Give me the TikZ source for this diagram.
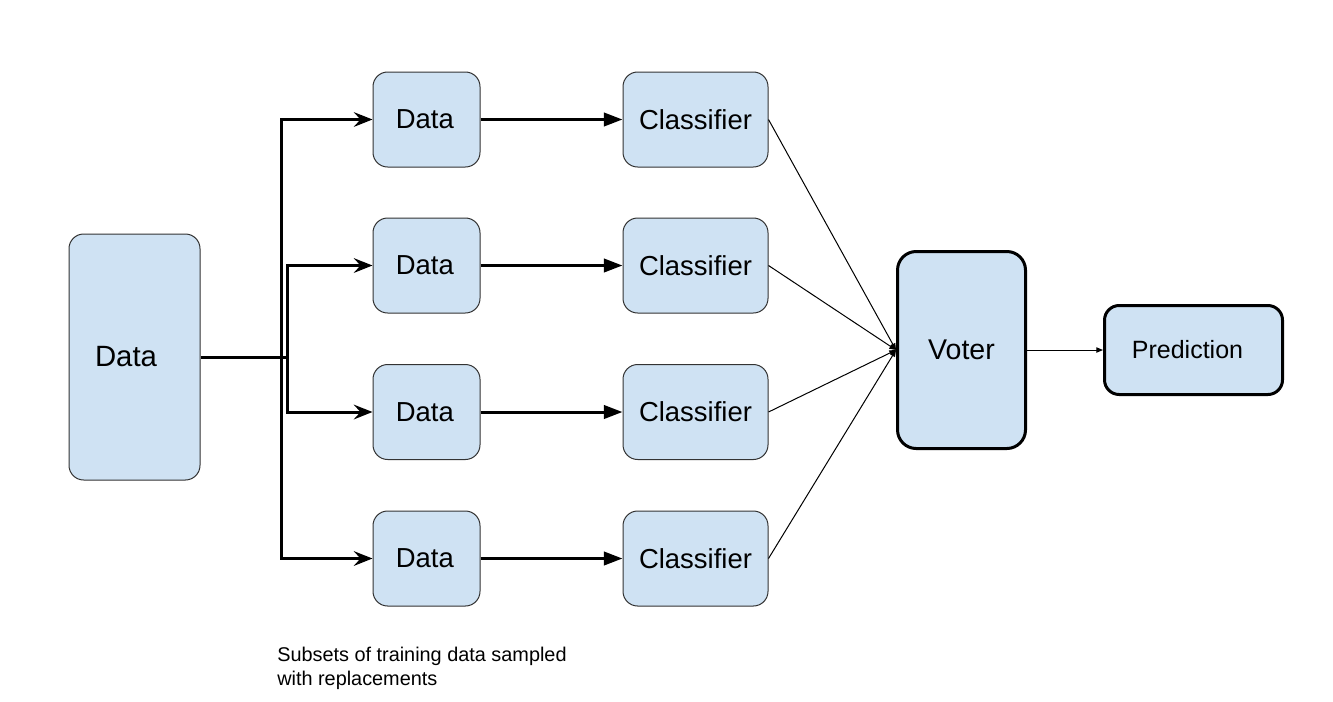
\documentclass[tikz,border=0pt]{standalone}
\usepackage{fontspec}
\setmainfont{Liberation Sans}
\usetikzlibrary{arrows.meta}
\definecolor{boxfill}{HTML}{CFE2F3}
\definecolor{boxline}{HTML}{333333}
\begin{document}
\begin{tikzpicture}[x=0.75pt,y=-0.75pt,
  thinbox/.style={draw=boxline,line width=0.75pt,fill=boxfill,rounded corners=11pt,inner sep=0pt},
  thickbox/.style={draw=black,line width=2.25pt,fill=boxfill,rounded corners=14pt,inner sep=0pt},
  branch/.style={draw=black,line width=2.25pt,-{Stealth[length=14pt,width=11pt,inset=5pt]}},
  feed/.style={draw=black,line width=2.25pt,-{Triangle[length=14pt,width=10pt]}},
  vote/.style={draw=black,line width=0.75pt,-{Triangle[length=5pt,width=4pt]}},
  lbl/.style={font=\fontsize{20.6pt}{24pt}\selectfont}]
\useasboundingbox (0,0) rectangle (1333,701);
\node[thinbox,minimum width=98.25pt,minimum height=184.5pt,font=\fontsize{22pt}{26pt}\selectfont] (bigdata) at (134.5,357) {Data\hspace*{12.75pt}};
\foreach \i/\yy in {1/119.5,2/265.5,3/412,4/558.5}{
  \node[thinbox,lbl,minimum width=80.25pt,minimum height=71.25pt] (d\i) at (426.5,\yy) {Data\hspace*{2.5pt}};
  \node[thinbox,lbl,minimum width=108.75pt,minimum height=71.25pt] (c\i) at (695.5,\yy) {Classifier};
}
\node[thickbox,minimum width=96pt,minimum height=147.75pt,font=\fontsize{21.4pt}{25pt}\selectfont] (voter) at (961.5,350) {Voter};
\node[thickbox,rounded corners=11pt,minimum width=133.5pt,minimum height=66.75pt,font=\fontsize{18.75pt}{22pt}\selectfont] (pred) at (1193.5,350) {Prediction\hspace*{9pt}};
\coordinate (j1) at (281.5,357);
\coordinate (j2) at (287,357);
\draw[line width=2.25pt] (bigdata.east) -- (j2);
\draw[branch] (j1) |- (d1.west);
\draw[branch] (j1) |- (d4.west);
\draw[branch] (j2) |- (d2.west);
\draw[branch] (j2) |- (d3.west);
\foreach \i in {1,2,3,4}{
  \draw[feed] (d\i.east) -- (c\i.west);
  \draw[vote] (c\i.east) -- (voter.west);
}
\draw[vote] (voter.east) -- (pred.west);
\node[anchor=north west,align=left,inner sep=0pt,font=\fontsize{14.9pt}{18pt}\selectfont] (cap) at (277,647) {Subsets of training data sampled\\with replacements};
\end{tikzpicture}
\end{document}
